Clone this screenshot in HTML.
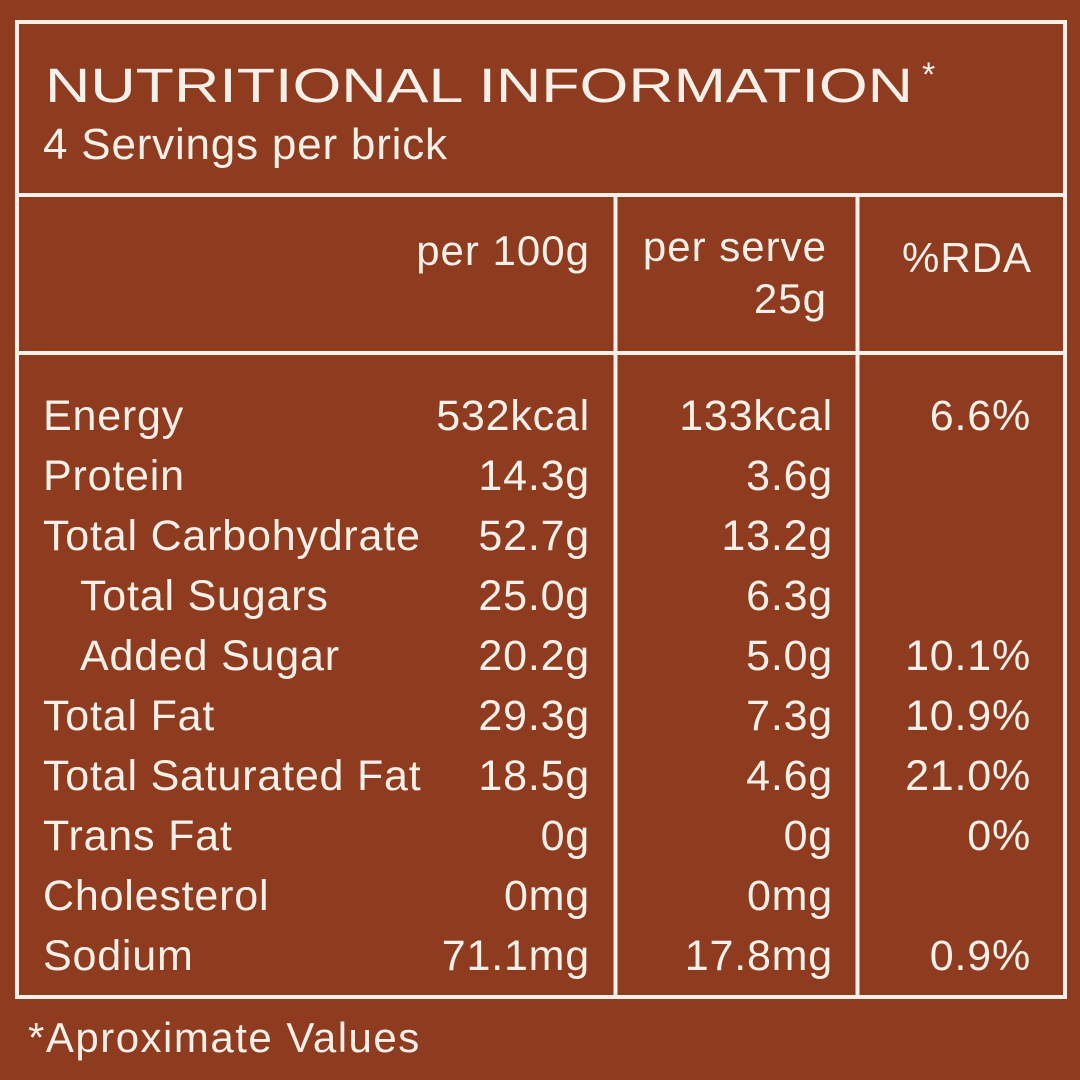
<!DOCTYPE html>
<html><head><meta charset="utf-8"><style>
html,body{margin:0;padding:0;background:#8e3b20;}
svg{display:block}
text{font-family:"Liberation Sans",sans-serif;fill:#f6f0e8;}
</style></head><body>
<svg width="1080" height="1080" viewBox="0 0 1080 1080" xmlns="http://www.w3.org/2000/svg">
<rect width="1080" height="1080" fill="#8e3b20"/>
<g stroke="#f6f0e8" stroke-width="4" fill="none">
<rect x="17" y="22" width="1048" height="975"/>
<line x1="17" y1="195" x2="1065" y2="195"/>
<line x1="17" y1="353" x2="1065" y2="353"/>
<line x1="615.5" y1="195" x2="615.5" y2="997"/>
<line x1="857.5" y1="195" x2="857.5" y2="997"/>
</g>
<text x="45" y="102" font-size="48" textLength="868" lengthAdjust="spacingAndGlyphs">NUTRITIONAL INFORMATION</text>
<text x="922" y="86" font-size="34">*</text>
<text x="43" y="159" font-size="44" letter-spacing="0.8">4 Servings per brick</text>
<g font-size="42" letter-spacing="1" text-anchor="end">
<text x="590" y="265">per 100g</text>
<text x="827" y="261">per serve</text>
<text x="827" y="313">25g</text>
<text x="1032" y="272">%RDA</text>
</g>
<g font-size="43" letter-spacing="0.8">
<text x="43" y="430">Energy</text>
<text x="43" y="490">Protein</text>
<text x="43" y="550">Total Carbohydrate</text>
<text x="80" y="610">Total Sugars</text>
<text x="80" y="670">Added Sugar</text>
<text x="43" y="730">Total Fat</text>
<text x="43" y="790">Total Saturated Fat</text>
<text x="43" y="850">Trans Fat</text>
<text x="43" y="910">Cholesterol</text>
<text x="43" y="970">Sodium</text>
</g>
<g font-size="43" letter-spacing="0.8" text-anchor="end">
<text x="590" y="430">532kcal</text>
<text x="590" y="490">14.3g</text>
<text x="590" y="550">52.7g</text>
<text x="590" y="610">25.0g</text>
<text x="590" y="670">20.2g</text>
<text x="590" y="730">29.3g</text>
<text x="590" y="790">18.5g</text>
<text x="590" y="850">0g</text>
<text x="590" y="910">0mg</text>
<text x="590" y="970">71.1mg</text>
<text x="833" y="430">133kcal</text>
<text x="833" y="490">3.6g</text>
<text x="833" y="550">13.2g</text>
<text x="833" y="610">6.3g</text>
<text x="833" y="670">5.0g</text>
<text x="833" y="730">7.3g</text>
<text x="833" y="790">4.6g</text>
<text x="833" y="850">0g</text>
<text x="833" y="910">0mg</text>
<text x="833" y="970">17.8mg</text>
<text x="1031" y="430">6.6%</text>
<text x="1031" y="670">10.1%</text>
<text x="1031" y="730">10.9%</text>
<text x="1031" y="790">21.0%</text>
<text x="1031" y="850">0%</text>
<text x="1031" y="970">0.9%</text>
</g>
<text x="28" y="1052" font-size="42" letter-spacing="1.5">*Aproximate Values</text>
</svg>
</body></html>
